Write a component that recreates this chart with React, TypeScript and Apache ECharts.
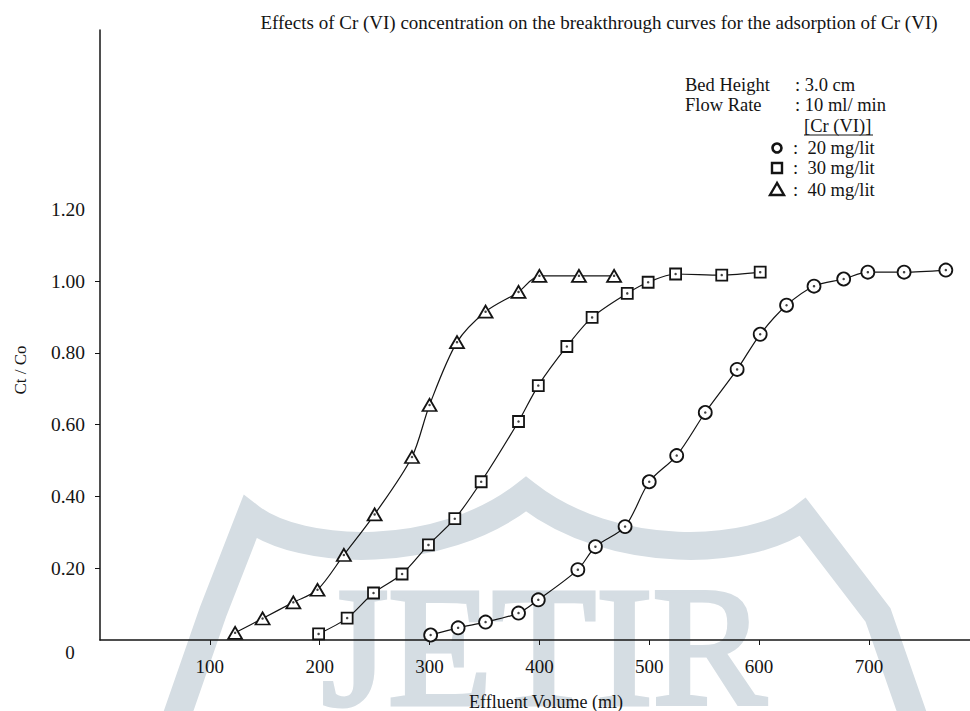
import React, { useEffect, useRef } from "react";
import * as echarts from "echarts";

// Effluent volume (ml) and Ct/Co for each inlet Cr(VI) concentration
const vol20 = [301, 326, 351, 381, 399, 435, 451, 478, 500, 525, 551, 580, 601, 625, 650, 677, 699, 732, 770];
const ratio20 = [0.014, 0.034, 0.05, 0.075, 0.112, 0.196, 0.26, 0.316, 0.441, 0.514, 0.634, 0.754, 0.852, 0.933, 0.986, 1.006, 1.025, 1.025, 1.031];

const vol30 = [199, 225, 249, 275, 299, 323, 347, 381, 399, 425, 448, 480, 499, 524, 566, 601];
const ratio30 = [0.017, 0.061, 0.131, 0.184, 0.265, 0.338, 0.441, 0.609, 0.709, 0.818, 0.899, 0.966, 0.997, 1.02, 1.017, 1.025];

const vol40 = [123, 148, 176, 198, 222, 250, 284, 300, 325, 351, 381, 400, 436, 468];
const ratio40 = [0.02, 0.06, 0.105, 0.14, 0.237, 0.35, 0.51, 0.655, 0.83, 0.915, 0.97, 1.015, 1.015, 1.015];

const xTicks = [100, 200, 300, 400, 500, 600, 700];
const yLabels = [0.2, 0.4, 0.6, 0.8, 1.0, 1.2];
const yTicks = [0.2, 0.4, 0.6, 0.8, 1.0];

const INK = "#141414";
const MARK = "#d5dde3";
const SERIF = "'Liberation Serif', 'Times New Roman', serif";

// outline of the background emblem
echarts.graphic.registerShape(
  "logo",
  echarts.graphic.extendPath(
    "M172,730 L213,612 L250,517 C300,556 440,562 526,494 C612,562 752,556 803,517 L878,615 L918,730",
    {}
  )
);

const pairs = (xs: number[], ys: number[]) => xs.map((x, i) => [x, ys[i]]);

function curve(name: string, data: number[][], symbol: string, size: any) {
  return [
    {
      name,
      type: "line",
      data,
      smooth: 0.3,
      symbol,
      symbolSize: size,
      showSymbol: true,
      lineStyle: { color: INK, width: 1.2 },
      itemStyle: { color: "#ffffff", borderColor: INK, borderWidth: 1.8 },
      z: 3,
    },
    {
      name: name + " centre",
      type: "scatter",
      data,
      symbol: "circle",
      symbolSize: 2.5,
      itemStyle: { color: INK },
      z: 4,
    },
  ];
}

export default function App() {
  const ref = useRef<HTMLDivElement>(null);

  useEffect(() => {
    if (!ref.current) return;
    const chart = echarts.init(ref.current, null, { renderer: "svg" });
    const txt = { fill: INK, fontFamily: SERIF, fontSize: 18.5 };
    chart.setOption({
      animation: false,
      backgroundColor: "#ffffff",
      grid: { left: 100, right: 0, top: 30, bottom: 71 },
      xAxis: {
        type: "value",
        min: 0,
        max: 792,
        splitLine: { show: false },
        axisLine: { lineStyle: { color: INK, width: 1.5 } },
        axisTick: { show: true, length: 5, inside: false, customValues: xTicks, lineStyle: { color: INK } },
        axisLabel: {
          customValues: xTicks,
          margin: 17,
          color: INK,
          fontFamily: SERIF,
          fontSize: 19,
        },
      },
      yAxis: {
        type: "value",
        min: 0,
        max: 1.7,
        splitLine: { show: false },
        axisLine: { lineStyle: { color: INK, width: 1.5 } },
        axisTick: { show: true, length: 5, customValues: yTicks, lineStyle: { color: INK } },
        axisLabel: {
          customValues: yLabels,
          formatter: (v: number) => v.toFixed(2),
          margin: 15,
          color: INK,
          fontFamily: SERIF,
          fontSize: 19.5,
        },
      },
      graphic: [
        {
          type: "logo",
          x: 0,
          y: 0,
          silent: true,
          z: -10,
          style: { fill: "none", stroke: MARK, lineWidth: 28, lineJoin: "miter" },
        },
        {
          type: "text",
          x: 544,
          y: 647,
          silent: true,
          z: -10,
          style: {
            text: "JETIR",
            fill: MARK,
            stroke: MARK,
            lineWidth: 5,
            fontFamily: SERIF,
            fontSize: 170,
            align: "center",
            verticalAlign: "middle",
          },
        },
        {
          type: "text",
          x: 599,
          y: 22,
          style: {
            ...txt,
            fontSize: 19,
            text: "Effects of Cr (VI) concentration on the breakthrough curves for the adsorption of Cr (VI)",
            align: "center",
            verticalAlign: "middle",
          },
        },
        { type: "text", x: 685, y: 85, style: { ...txt, text: "Bed Height", verticalAlign: "middle" } },
        { type: "text", x: 795, y: 85, style: { ...txt, text: ": 3.0 cm", verticalAlign: "middle" } },
        { type: "text", x: 685, y: 105, style: { ...txt, text: "Flow Rate", verticalAlign: "middle" } },
        { type: "text", x: 795, y: 105, style: { ...txt, text: ": 10 ml/ min", verticalAlign: "middle" } },
        { type: "text", x: 804, y: 126, style: { ...txt, text: "[Cr (VI)]", verticalAlign: "middle" } },
        { type: "line", shape: { x1: 804, y1: 135, x2: 873, y2: 135 }, style: { stroke: INK, lineWidth: 1 } },
        { type: "circle", shape: { cx: 777, cy: 148, r: 4.5 }, style: { fill: "#fff", stroke: INK, lineWidth: 2.6 } },
        { type: "rect", shape: { x: 772, y: 163, width: 10, height: 10 }, style: { fill: "#fff", stroke: INK, lineWidth: 2.4 } },
        {
          type: "polygon",
          shape: { points: [[777, 183], [770, 195], [784, 195]] },
          style: { fill: "#fff", stroke: INK, lineWidth: 2.4 },
        },
        { type: "text", x: 793, y: 148, style: { ...txt, text: ":  20 mg/lit", verticalAlign: "middle" } },
        { type: "text", x: 793, y: 168, style: { ...txt, text: ":  30 mg/lit", verticalAlign: "middle" } },
        { type: "text", x: 793, y: 190, style: { ...txt, text: ":  40 mg/lit", verticalAlign: "middle" } },
        { type: "text", x: 70, y: 652, style: { ...txt, fontSize: 19, text: "0", align: "center", verticalAlign: "middle" } },
        {
          type: "text",
          x: 20,
          y: 370,
          rotation: Math.PI / 2,
          style: { ...txt, fontSize: 17, text: "Ct / Co", align: "center", verticalAlign: "middle" },
        },
        {
          type: "text",
          x: 546,
          y: 702,
          style: { ...txt, fontSize: 18, text: "Effluent Volume (ml)", align: "center", verticalAlign: "middle" },
        },
      ],
      series: [
        ...curve("20 mg/lit", pairs(vol20, ratio20), "circle", 13),
        ...curve("30 mg/lit", pairs(vol30, ratio30), "rect", 11),
        ...curve("40 mg/lit", pairs(vol40, ratio40), "triangle", [14, 12]),
      ],
    });
    return () => chart.dispose();
  }, []);

  return <div ref={ref} style={{ width: 970, height: 711, position: "absolute", left: 0, top: 0 }} />;
}
